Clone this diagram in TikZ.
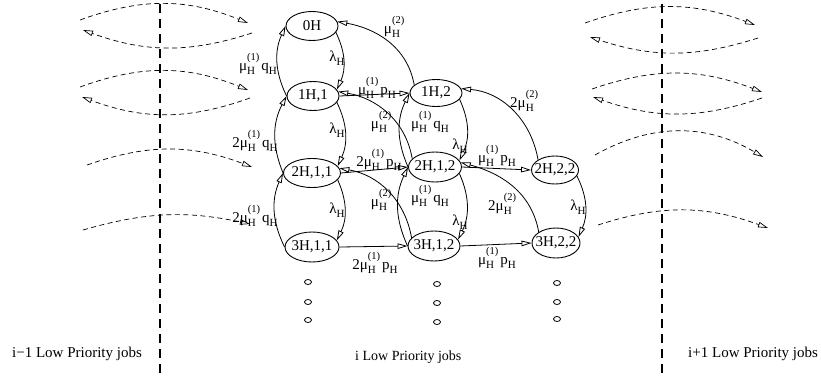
\documentclass[tikz,border=0pt]{standalone}
\usepackage{fontspec}
\setmainfont{Liberation Serif}
\usetikzlibrary{arrows.meta,shapes.geometric}
\newcommand\SU[2]{\begingroup\setbox0\hbox{\fontsize{10.5}{10.5}\selectfont #1}\setbox2\hbox{\fontsize{11}{11}\selectfont #2}\dimen0=\wd0 \ifdim\wd2>\dimen0 \dimen0=\wd2 \fi\rlap{\raise9.5pt\box0}\rlap{\lower4pt\box2}\hskip\dimen0\endgroup}
\begin{document}
\begin{tikzpicture}[x=1pt,y=1pt,
  st/.style={draw, ellipse, line width=0.9pt, inner sep=0pt, minimum width=52pt, minimum height=29pt, font=\fontsize{15}{15}\selectfont},
  ar/.style={line width=0.8pt, -{Triangle[open,length=10pt,width=5.5pt]}},
  da/.style={line width=0.7pt, dash pattern=on 5pt off 3.5pt, -{Triangle[open,length=10pt,width=5.5pt]}},
  vd/.style={line width=1.8pt, dash pattern=on 9pt off 6pt},
  lb/.style={inner sep=0pt, font=\fontsize{15}{15}\selectfont},
  dot/.style={draw, ellipse, line width=0.8pt, minimum width=7pt, minimum height=5pt, inner sep=0pt},
  bt/.style={inner sep=0pt, anchor=base west, font=\fontsize{15}{15}\selectfont}]
\useasboundingbox (0,0) rectangle (821,-375);

% vertical separators
\coordinate (v1t) at (160,-4); \coordinate (v1b) at (160,-373);
\coordinate (v2t) at (662,-4); \coordinate (v2b) at (662,-373);
\draw[vd] (v1t) -- (v1b);
\draw[vd] (v2t) -- (v2b);

% states
\node[st] (n0) at (312,-26) {\makebox[0pt]{0H}};
\node[st] (a1) at (313,-96) {\makebox[0pt]{1H,1}};
\node[st, minimum width=57pt] (a2) at (312,-173) {\makebox[0pt]{2H,1,1}};
\node[st, minimum width=54pt, minimum height=30pt] (a3) at (312,-247) {\makebox[0pt]{3H,1,1}};
\node[st, minimum height=27pt] (b1) at (436,-93) {\makebox[0pt]{1H,2}};
\node[st, minimum width=53pt, minimum height=30pt] (b2) at (435,-167) {\makebox[0pt]{2H,1,2}};
\node[st, minimum height=30pt] (b3) at (434,-246) {\makebox[0pt]{3H,1,2}};
\node[st, minimum width=47pt, minimum height=28pt] (c2) at (555,-170) {\makebox[0pt]{2H,2,2}};
\node[st, minimum width=48pt, minimum height=30pt] (c3) at (556,-243) {\makebox[0pt]{3H,2,2}};

% column 1 vertical
\draw[ar] (a1.west) to[bend left=25] (n0.west);
\draw[ar] (n0.-15) to[bend left=25] (a1.15);
\draw[ar] (a2.west) to[bend left=25] (a1.west);
\draw[ar] (a1.-15) to[bend left=25] (a2.15);
\draw[ar] (a3.west) to[bend left=25] (a2.west);
\draw[ar] (a2.-15) to[bend left=25] (a3.15);
% column 2 vertical
\draw[ar] (b2.west) to[bend left=25] (b1.west);
\draw[ar] (b1.-15) to[bend left=25] (b2.15);
\draw[ar] (b3.west) to[bend left=25] (b2.west);
\draw[ar] (b2.-15) to[bend left=25] (b3.15);
% column 3 vertical
\draw[ar] (c2.-15) to[bend left=25] (c3.15);

% horizontal
\draw[ar] (a1.east) -- (b1.west);
\draw[ar] (a2.east) -- (b2.west);
\draw[ar] (a3.east) -- (b3.west);
\draw[ar] (b2.east) -- (c2.west);
\draw[ar] (b3.east) -- (c3.west);

% curved back transitions
\draw[ar] (b1.160) to[out=100,in=-10] (n0.10);
\draw[ar] (b2.160) to[out=100,in=-10] (a1.10);
\draw[ar] (b3.160) to[out=100,in=-10] (a2.10);
\draw[ar] (c2.north west) to[out=100,in=-5] (b1.10);
\draw[ar] (c3.north west) to[out=100,in=-15] (b2.10);

% labels
\node[lb] (l1) at (254,-64) {μ\SU{(1)}{H}\hspace{2pt}q\SU{}{H}};
\node[lb] (l2) at (333,-58) {λ\SU{}{H}};
\node[lb] (l3) at (251,-141) {2μ\SU{(1)}{H}\hspace{2pt}q\SU{}{H}};
\node[lb] (l4) at (333,-130) {λ\SU{}{H}};
\node[lb] (l5) at (251,-216) {2μ\SU{(1)}{H}\hspace{2pt}q\SU{}{H}};
\node[lb] (l6) at (333,-210) {λ\SU{}{H}};
\node[lb] (l7) at (373,-88) {μ\SU{(1)}{H}\hspace{2pt}p\SU{}{H}};
\node[lb] (l8) at (375,-122) {μ\SU{(2)}{H}};
\node[lb] (l9) at (375,-160) {2μ\SU{(1)}{H}\hspace{2pt}p\SU{}{H}};
\node[lb] (l10) at (375,-200) {μ\SU{(2)}{H}};
\node[lb] (l11) at (371,-263) {2μ\SU{(1)}{H}\hspace{2pt}p\SU{}{H}};
\node[lb] (l12) at (426,-122) {μ\SU{(1)}{H}\hspace{2pt}q\SU{}{H}};
\node[lb] (l13) at (456,-146) {λ\SU{}{H}};
\node[lb] (l14) at (426,-196) {μ\SU{(1)}{H}\hspace{2pt}q\SU{}{H}};
\node[lb] (l15) at (456,-222) {λ\SU{}{H}};
\node[lb] (l16) at (493,-156) {μ\SU{(1)}{H}\hspace{2pt}p\SU{}{H}};
\node[lb] (l17) at (518,-101) {2μ\SU{(2)}{H}};
\node[lb] (l18) at (496,-204) {2μ\SU{(2)}{H}};
\node[lb] (l19) at (493,-258) {μ\SU{(1)}{H}\hspace{2pt}p\SU{}{H}};
\node[lb] (l20) at (574,-207) {λ\SU{}{H}};
\node[lb] (l21) at (388,-27) {μ\SU{(2)}{H}};

% dots
\node[dot] (d11) at (308,-282) {}; \node[dot] (d12) at (308,-302) {}; \node[dot] (d13) at (308,-320) {};
\node[dot] (d21) at (437,-284) {}; \node[dot] (d22) at (437,-303) {}; \node[dot] (d23) at (437,-322) {};
\node[dot] (d31) at (557,-283) {}; \node[dot] (d32) at (557,-302) {}; \node[dot] (d33) at (557,-319) {};

% dashed transitions to neighbouring levels (left)
\draw[da] (80,-20) to[bend left=21] (248,-23);
\draw[da] (252,-33) to[bend left=19] (83,-30);
\draw[da] (80,-87) to[bend left=21] (248,-90);
\draw[da] (250,-98) to[bend left=20] (82,-97);
\draw[da] (87,-165) to[bend left=20] (252,-167);
\draw[da] (83,-230) to[bend left=14] (250,-224);
% right
\draw[da] (585,-23) to[bend left=20] (755,-25);
\draw[da] (758,-38) to[bend left=18] (590,-37);
\draw[da] (592,-89) to[bend left=20] (762,-92);
\draw[da] (762,-98) to[bend left=19] (593,-97);
\draw[da] (595,-155) to[bend left=30] (763,-157);
\draw[da] (598,-225) to[bend left=19] (768,-228);

% bottom captions
\node[bt] (t1) at (12,-357) {i−1 Low Priority jobs};
\node[bt, font=\fontsize{14}{14}\selectfont] (t2) at (355,-360) {i Low Priority jobs};
\node[bt] (t3) at (688,-357) {i+1 Low Priority jobs};
\end{tikzpicture}
\end{document}
